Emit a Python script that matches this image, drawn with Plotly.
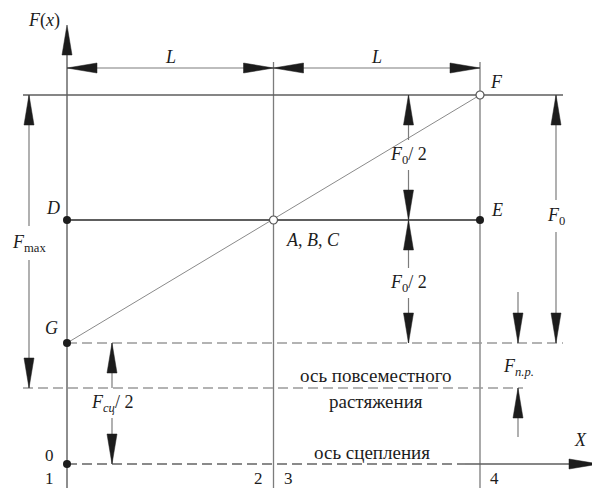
import plotly.graph_objects as go

# sections along X, in units of L  (1 | 2,3 | 4)
section_x = [0.0, 1.0, 2.0]

# force levels on the F(x) axis (relative units)
level_axis = 0       # ось сцепления, point 0
level_tension = 76   # ось повсеместного растяжения
level_G = 121        # G  (F_сц / 2)
level_D = 244        # D, E, A,B,C
level_F = 369        # F

# the page body has an 8px margin, so the figure is a bit smaller and shifted
PAGE_PAD = 8
W, H = 600 - PAGE_PAD, 488 - PAGE_PAD
X_LEFT = 67 - PAGE_PAD   # px of section 1
PX_PER_L = 206.5         # px per L
Y_ZERO = 464 - PAGE_PAD  # px of the X axis

GRAY = "#7c7c7c"
DARK = "#5e5e5e"
INK = "#1c1c1c"
FONT = "Liberation Serif"

fig = go.Figure()


def dx(px):
    return px / PX_PER_L


def seg(x0, y0, x1, y1, color=GRAY, width=1.3, dash=None):
    fig.add_trace(go.Scatter(x=[x0, x1], y=[y0, y1], mode="lines",
                             line=dict(color=color, width=width, dash=dash),
                             hoverinfo="skip", showlegend=False))


def head(x, y, direction, length=30, half=5):
    # filled triangle, tip at (x, y)
    if direction == "up":
        xs, ys = [x, x - dx(half), x + dx(half)], [y, y - length, y - length]
    elif direction == "down":
        xs, ys = [x, x - dx(half), x + dx(half)], [y, y + length, y + length]
    elif direction == "left":
        xs, ys = [x, x + dx(length), x + dx(length)], [y, y - half, y + half]
    else:
        xs, ys = [x, x - dx(length), x - dx(length)], [y, y - half, y + half]
    fig.add_trace(go.Scatter(x=xs + xs[:1], y=ys + ys[:1], mode="lines",
                             fill="toself", fillcolor=INK,
                             line=dict(color=INK, width=0.5),
                             hoverinfo="skip", showlegend=False))


def label(x, y, text, size=18):
    fig.add_annotation(x=x, y=y, text=text, showarrow=False, xanchor="center",
                       yanchor="middle", font=dict(family=FONT, size=size, color=INK))


def vdim(x, lo, hi, text, label_y, gap=15):
    seg(x, hi, x, label_y + gap, color=GRAY, width=1.2)
    seg(x, label_y - gap, x, lo, color=GRAY, width=1.2)
    head(x, hi, "up")
    head(x, lo, "down")
    label(x, label_y, text)


# ---- base lines ----
x_ext_left = section_x[0] - dx(44)
x_ext_right = section_x[2] + dx(83)

# y axis and vertical section lines
seg(section_x[0], level_F + 45, section_x[0], Y_ZERO - H - 5, color=DARK, width=1.4)
head(section_x[0], level_F + 70, "up")
for xs in section_x[1:]:
    seg(xs, level_F + 33, xs, Y_ZERO - H - 5, color=GRAY, width=1.3)

# horizontal levels
seg(x_ext_left, level_F, x_ext_right, level_F, color=DARK, width=1.6)
seg(section_x[0], level_D, section_x[2], level_D, color=DARK, width=2)
seg(section_x[0], level_G, x_ext_right, level_G, color="#9a9a9a", width=1.5, dash="10px,5px")
seg(x_ext_left, level_tension, section_x[2] + dx(43), level_tension,
    color="#9a9a9a", width=1.5, dash="10px,5px")
seg(section_x[0], level_axis, section_x[2] - dx(15), level_axis,
    color="#8a8a8a", width=2, dash="10px,5px")
seg(section_x[2] - dx(15), level_axis, section_x[2] + dx(95), level_axis, color=DARK, width=1.6)
head(section_x[2] + dx(119), level_axis, "right")

# diagonal G -> F
seg(section_x[0], level_G, section_x[2], level_F, color="#8a8a8a", width=1)

# ---- dimensions ----
y_L = level_F + 27
seg(section_x[0], y_L, section_x[2], y_L, color=GRAY, width=1.2)
for a, b in zip(section_x[:-1], section_x[1:]):
    head(a, y_L, "left")
    head(b, y_L, "right")
    label((a + b) / 2, y_L + 11, "<i>L</i>")

vdim(section_x[0] - dx(38), level_tension, level_F,
     "<i>F</i><sub>max</sub>", 221, gap=17)
vdim(section_x[2] + dx(76), level_G, level_F, "<i>F</i><sub>0</sub>", 248, gap=16)
vdim(section_x[1] + dx(135), level_D, level_F, "<i>F</i><sub>0</sub>/ 2", 309)
vdim(section_x[1] + dx(135), level_G, level_D, "<i>F</i><sub>0</sub>/ 2", 181)
vdim(section_x[0] + dx(45), level_axis, level_G, "<i>F</i><sub><i>сц</i></sub>/ 2", 61)

# F_n.p. : arrows from outside
x_np = section_x[2] + dx(38)
seg(x_np, level_G + 51, x_np, level_G, color=GRAY, width=1.2)
head(x_np, level_G, "down")
seg(x_np, level_tension - 49, x_np, level_tension, color=GRAY, width=1.2)
head(x_np, level_tension, "up")
label(x_np, 97, "<i>F</i><sub><i>n.p.</i></sub>")

# ---- points ----
fig.add_trace(go.Scatter(x=[section_x[0], section_x[2], section_x[0], section_x[0]],
                         y=[level_D, level_D, level_G, level_axis], mode="markers",
                         marker=dict(size=8, color=INK), hoverinfo="skip", showlegend=False))
fig.add_trace(go.Scatter(x=[section_x[1], section_x[2]], y=[level_D, level_F], mode="markers",
                         marker=dict(size=8, color="white", line=dict(color="#555555", width=1.2)),
                         hoverinfo="skip", showlegend=False))

# ---- labels ----
label(section_x[0] - dx(23), 444, "<i>F</i>(<i>x</i>)")
label(section_x[2] + dx(16), 382, "<i>F</i>")
label(section_x[0] - dx(14), 256, "<i>D</i>")
label(section_x[2] + dx(17), 254, "<i>E</i>")
label(section_x[1] + dx(39), 224, "<i>A</i>, <i>B</i>, <i>C</i>")
label(section_x[0] - dx(16), 136, "<i>G</i>")
label(section_x[2] + dx(100), 24, "<i>X</i>")
label(section_x[0] - dx(18), 9, "0", size=17)
for txt, xo in [("1", section_x[0] - dx(18)), ("2", section_x[1] - dx(15)),
                ("3", section_x[1] + dx(15)), ("4", section_x[2] + dx(14))]:
    label(xo, -14, txt, size=17)
label(section_x[1] + dx(102), 89, "ось повсеместного", size=19)
label(section_x[1] + dx(102), 63, "растяжения", size=19)
label(section_x[1] + dx(98), 12, "ось сцепления", size=19)

fig.update_layout(
    width=W, height=H,
    margin=dict(l=0, r=0, t=0, b=0),
    plot_bgcolor="white", paper_bgcolor="white",
    xaxis=dict(range=[-dx(X_LEFT), dx(W - X_LEFT)], visible=False, fixedrange=True),
    yaxis=dict(range=[Y_ZERO - H, Y_ZERO], visible=False, fixedrange=True),
    showlegend=False,
)

fig.write_html("out.html")
